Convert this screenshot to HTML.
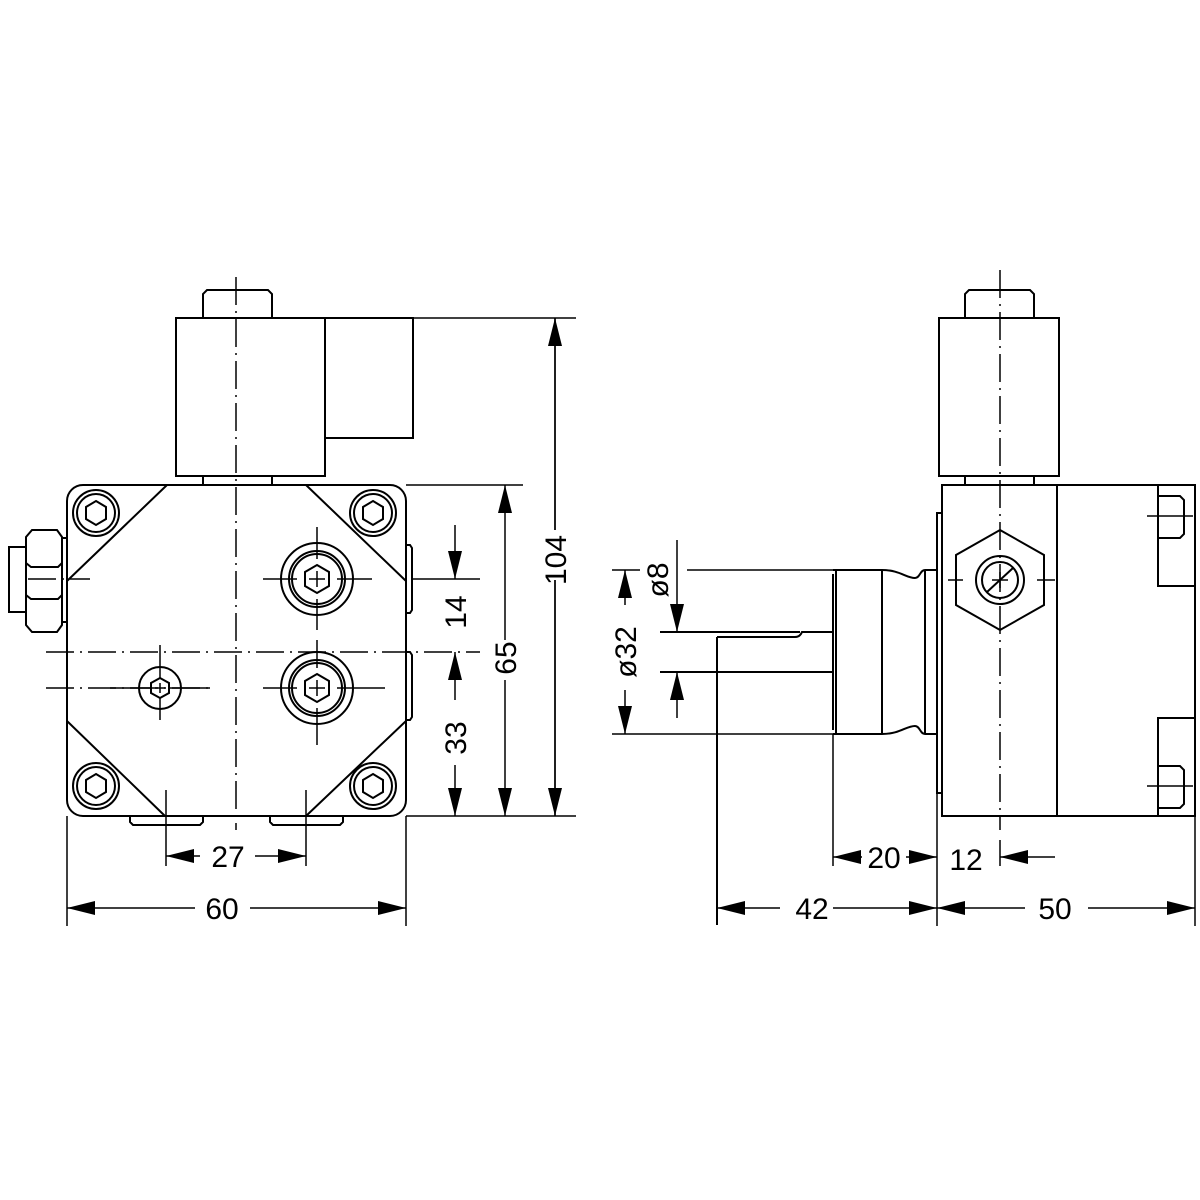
<!DOCTYPE html>
<html><head><meta charset="utf-8"><style>html,body{margin:0;padding:0;background:#fff}svg{display:block}</style></head>
<body>
<svg width="1200" height="1200" viewBox="0 0 1200 1200" xmlns="http://www.w3.org/2000/svg">
<defs>
<marker id="a" viewBox="0 0 28 14" refX="28" refY="7" markerWidth="28" markerHeight="14" markerUnits="userSpaceOnUse" orient="auto"><path d="M0,0 L28,7 L0,14 z" fill="#000"/></marker>
<marker id="b" viewBox="0 0 28 14" refX="0" refY="7" markerWidth="28" markerHeight="14" markerUnits="userSpaceOnUse" orient="auto"><path d="M28,0 L0,7 L28,14 z" fill="#000"/></marker>
</defs>
<g fill="none" stroke="#000" stroke-width="2">
<!-- LEFT VIEW -->
<path d="M203,318 V294 l4,-4 h61 l4,4 V318"/>
<rect x="176" y="318" width="149" height="158"/>
<rect x="325" y="318" width="88" height="120"/>
<rect x="203" y="476" width="69" height="9"/>
<rect x="67" y="485" width="339" height="331" rx="16"/>
<path d="M167,485 L67,581 M306,485 L406,581 M67,721 L165,816 M406,721 L306,816"/>
<g>
<circle cx="96" cy="513" r="23"/><circle cx="96" cy="513" r="19"/><polygon points="96,501 106,507 106,519 96,525 86,519 86,507"/>
<circle cx="373" cy="513" r="23"/><circle cx="373" cy="513" r="19"/><polygon points="373,501 383,507 383,519 373,525 363,519 363,507"/>
<circle cx="96" cy="786" r="23"/><circle cx="96" cy="786" r="19"/><polygon points="96,774 106,780 106,792 96,798 86,792 86,780"/>
<circle cx="373" cy="786" r="23"/><circle cx="373" cy="786" r="19"/><polygon points="373,774 383,780 383,792 373,798 363,792 363,780"/>
</g>
<circle cx="317" cy="579" r="36"/><circle cx="317" cy="579" r="28"/><circle cx="317" cy="579" r="25"/>
<polygon points="317,565 329,572 329,586 317,593 305,586 305,572"/>
<circle cx="317" cy="688" r="36"/><circle cx="317" cy="688" r="28"/><circle cx="317" cy="688" r="25"/>
<polygon points="317,674 329,681 329,695 317,702 305,695 305,681"/>
<circle cx="160" cy="688" r="21"/><polygon points="160,678 169,683 169,693 160,698 151,693 151,683"/>
<!-- left nut -->
<rect x="9" y="547" width="17" height="65"/>
<path d="M26,537 l6,-7 h25 l5,7 v26 l-4,4 h-27 l-5,-4 z M26,563 v32 l5,4 h27 l4,-4 v-32 M26,595 v30 l6,7 h25 l5,-7 v-30"/>
<rect x="62" y="538" width="5" height="84"/>
<!-- right bumps -->
<path d="M406,545 h4 l2,3 v62 l-2,3 h-4 M406,652 h4 l2,3 v62 l-2,3 h-4"/>
<!-- feet -->
<path d="M130,816 v6 l3,3 h67 l3,-3 v-6 M270,816 v6 l3,3 h67 l3,-3 v-6"/>
</g>
<g fill="none" stroke="#000" stroke-width="1.5" stroke-dasharray="28,6,2,6">
<path d="M236,277 V830"/>
<path d="M46,652 H480"/>
<path d="M46,688 H210"/>
<path d="M28,579 H90"/>
</g>
<g fill="none" stroke="#000" stroke-width="1.5">
<path d="M263,579 H297 M337,579 H372 M317,527 V559 M317,599 V630"/>
<path d="M263,688 H297 M337,688 H385 M317,640 V668 M317,708 V745"/>
<path d="M110,688 H150 M170,688 H210 M160,645 V678 M160,698 V720"/>
<path d="M309,579 H325 M317,571 V587 M309,688 H325 M317,680 V696 M155,688 H165 M160,683 V693"/>
<path d="M412,579 H480"/>
<path d="M166,790 V866 M306,790 V866"/>
</g>
<!-- left dimensions -->
<g fill="none" stroke="#000" stroke-width="1.5">
<path d="M413,318 H576 M406,485 H523 M406,816 H576"/>
<path d="M67,816 V926 M406,816 V926"/>
<path d="M555,318 V530 M555,580 V816" />
<path d="M555,530 V318" marker-end="url(#a)"/>
<path d="M555,580 V816" marker-end="url(#a)"/>
<path d="M505,640 V485" marker-end="url(#a)"/>
<path d="M505,680 V816" marker-end="url(#a)"/>
<path d="M455,525 V579" marker-end="url(#a)"/>
<path d="M455,700 V652" marker-end="url(#a)"/>
<path d="M455,765 V816" marker-end="url(#a)"/>
<path d="M200,856 H166" marker-end="url(#a)"/>
<path d="M255,856 H306" marker-end="url(#a)"/>
<path d="M195,908 H67" marker-end="url(#a)"/>
<path d="M250,908 H406" marker-end="url(#a)"/>
</g>
<g font-family="Liberation Sans, sans-serif" font-size="30" fill="#000">
<text x="228" y="867" text-anchor="middle">27</text>
<text x="222" y="919" text-anchor="middle">60</text>
<text transform="translate(566,560) rotate(-90)" text-anchor="middle">104</text>
<text transform="translate(516,658) rotate(-90)" text-anchor="middle">65</text>
<text transform="translate(466,612) rotate(-90)" text-anchor="middle">14</text>
<text transform="translate(466,738) rotate(-90)" text-anchor="middle">33</text>
</g>

<!-- RIGHT VIEW -->
<g fill="none" stroke="#000" stroke-width="2">
<path d="M965,318 V294 l4,-4 h61 l4,4 V318"/>
<rect x="939" y="318" width="120" height="158"/>
<rect x="965" y="476" width="69" height="9"/>
<rect x="942" y="485" width="253" height="331"/>
<path d="M1057,485 V816"/>
<path d="M1158,485 V586 H1195 M1158,816 V718 H1195"/>
<path d="M1158,496 h22 l4,4 v34 l-4,4 h-22 M1158,766 h22 l4,4 v34 l-4,4 h-22"/>
<rect x="937" y="513" width="5" height="280"/>
<polygon points="1000,530 1044,555 1044,605 1000,630 956,605 956,555"/>
<circle cx="1000" cy="580" r="24"/><circle cx="1000" cy="580" r="18"/>
<path d="M987,592 L1013,568"/>
<!-- shaft -->
<path d="M833,570 H882 C900,570 906,578 915,578 C920,578 920,570 925,570 H937"/>
<path d="M833,734 H882 C900,734 906,726 915,726 C920,726 920,734 925,734 H937"/>
<path d="M836,570 V734 M882,570 V734 M925,570 V734"/>
<path d="M833,574 L833,730"/>
<path d="M717,637 H795 Q800,637 802,632 H833 M717,637 V925 M660,632 H800 M660,672 H833"/>
</g>
<g fill="none" stroke="#000" stroke-width="1.5" stroke-dasharray="28,6,2,6">
<path d="M1000,270 V830"/>
</g>
<g fill="none" stroke="#000" stroke-width="1.5">
<path d="M948,580 H963 M1037,580 H1055 M992,580 H1008 M1000,572 V588"/>
<path d="M1147,516 H1193 M1147,786 H1193"/>
<path d="M612,570 H640 M687,570 H835 M612,734 H833"/>
<path d="M833,734 V866 M937,793 V926 M1195,816 V926 M1000,840 V866"/>
<path d="M625,605 V570" marker-end="url(#a)"/>
<path d="M625,690 V734" marker-end="url(#a)"/>
<path d="M677,540 V632" marker-end="url(#a)"/>
<path d="M677,718 V672" marker-end="url(#a)"/>
<path d="M862,857 H833" marker-end="url(#a)"/>
<path d="M906,857 H937" marker-end="url(#a)"/>
<path d="M1055,857 H1000" marker-end="url(#a)"/>
<path d="M780,908 H717" marker-end="url(#a)"/>
<path d="M833,908 H937" marker-end="url(#a)"/>
<path d="M1025,908 H937" marker-end="url(#a)"/>
<path d="M1088,908 H1195" marker-end="url(#a)"/>
</g>
<g font-family="Liberation Sans, sans-serif" font-size="30" fill="#000">
<text x="884" y="868" text-anchor="middle">20</text>
<text x="966" y="870" text-anchor="middle">12</text>
<text x="812" y="919" text-anchor="middle">42</text>
<text x="1055" y="919" text-anchor="middle">50</text>
<text transform="translate(636,652) rotate(-90)" text-anchor="middle">ø32</text>
<text transform="translate(668,580) rotate(-90)" text-anchor="middle">ø8</text>
</g>
</svg>
</body></html>
